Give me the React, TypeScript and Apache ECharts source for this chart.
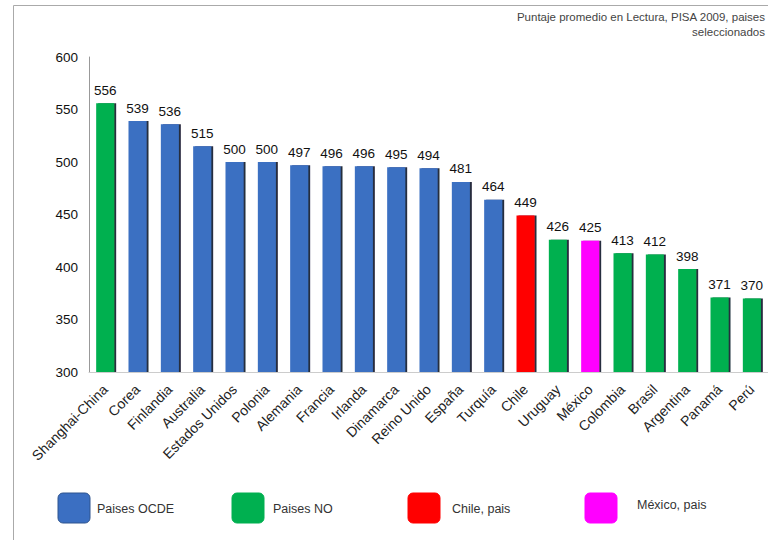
import React, { useEffect, useRef } from "react";
import * as echarts from "echarts";

const countries = [
  "Shanghai-China", "Corea", "Finlandia", "Australia", "Estados Unidos", "Polonia",
  "Alemania", "Francia", "Irlanda", "Dinamarca", "Reino Unido", "España", "Turquía",
  "Chile", "Uruguay", "México", "Colombia", "Brasil", "Argentina", "Panamá", "Perú",
];
const scores = [556, 539, 536, 515, 500, 500, 497, 496, 496, 495, 494, 481, 464, 449, 426, 425, 413, 412, 398, 371, 370];
const groups = [
  "NO", "OCDE", "OCDE", "OCDE", "OCDE", "OCDE", "OCDE", "OCDE", "OCDE", "OCDE", "OCDE", "OCDE", "OCDE",
  "CHILE", "NO", "MEXICO", "NO", "NO", "NO", "NO", "NO",
];
const legendKeys = ["OCDE", "NO", "CHILE", "MEXICO"];
const legendLabels = ["Paises OCDE", "Paises NO", "Chile, pais", "México, pais"];
const yTicks = [300, 350, 400, 450, 500, 550, 600];
const titleLines = ["Puntaje promedio en Lectura, PISA 2009, paises", "seleccionados"];

const colorOf: Record<string, string> = {
  OCDE: "#3b6fc2",
  NO: "#00b050",
  CHILE: "#ff0000",
  MEXICO: "#ff00ff",
};
const legendX = [58, 232, 408, 585];
const legendTextX = [97, 273, 452, 637];

export default function App() {
  const ref = useRef<HTMLDivElement>(null);
  useEffect(() => {
    if (!ref.current) return;
    const chart = echarts.init(ref.current, null, { renderer: "svg" });
    const font = "'Liberation Sans', Arial, sans-serif";
    const legendGraphics: any[] = [];
    legendKeys.forEach((k, i) => {
      legendGraphics.push({
        type: "rect",
        shape: { x: legendX[i], y: 493, width: 32, height: 30, r: 5 },
        style: { fill: colorOf[k], stroke: k === "OCDE" ? "#2f558f" : colorOf[k], lineWidth: 1 },
      });
      legendGraphics.push({
        type: "text",
        x: legendTextX[i],
        y: i === 3 ? 505 : 509,
        style: { text: legendLabels[i], fontSize: 12.5, fontFamily: font, fill: "#333", verticalAlign: "middle" },
      });
    });
    chart.setOption({
      animation: false,
      backgroundColor: "#fff",
      grid: { left: 89, top: 57, width: 681, height: 315, containLabel: false },
      xAxis: {
        type: "category",
        data: countries,
        axisLine: { show: true, lineStyle: { color: "#ccc" } },
        axisTick: { show: false },
        axisLabel: { interval: 0, rotate: 45, fontSize: 14, color: "#222", fontFamily: font, margin: 15 },
      },
      yAxis: {
        type: "value",
        min: yTicks[0],
        max: yTicks[yTicks.length - 1],
        interval: 50,
        axisLine: { show: true, lineStyle: { color: "#999" } },
        axisTick: { show: false },
        splitLine: { show: false },
        axisLabel: { fontSize: 13.5, color: "#111", fontFamily: font, margin: 11 },
      },
      series: [
        {
          type: "bar",
          barWidth: 18,
          data: scores.map((v, i) => ({
            value: v,
            itemStyle: {
              color: colorOf[groups[i]],
              shadowColor: "rgba(10,20,40,0.9)",
              shadowOffsetX: 2,
              shadowOffsetY: 0,
              shadowBlur: 0,
            },
          })),
          label: {
            show: true,
            position: "top",
            distance: 6,
            fontSize: 13.5,
            color: "#111",
            fontFamily: font,
          },
        },
      ],
      graphic: [
        { type: "line", shape: { x1: 13.5, y1: 5.5, x2: 13.5, y2: 540 }, style: { stroke: "#aaa", lineWidth: 1 } },
        { type: "line", shape: { x1: 13.5, y1: 5.5, x2: 768, y2: 5.5 }, style: { stroke: "#aaa", lineWidth: 1 } },
        {
          type: "text",
          x: 765,
          y: 9,
          style: {
            text: titleLines.join("\n"),
            textAlign: "right",
            fontSize: 11.5,
            lineHeight: 15,
            fontFamily: font,
            fill: "#444",
          },
        },
        ...legendGraphics,
      ],
    });
    return () => chart.dispose();
  }, []);
  return <div ref={ref} style={{ position: "fixed", left: 0, top: 0, width: 768, height: 540 }} />;
}
